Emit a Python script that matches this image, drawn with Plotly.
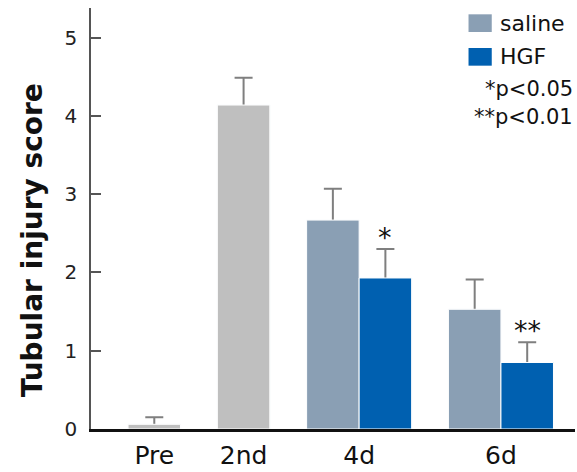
import plotly.graph_objects as go

# data
categories = ["Pre", "2nd", "4d", "6d"]
group_sizes = [1, 1, 2, 2]

control_values = [0.06, 4.14]
control_err = [0.09, 0.35]

series_names = ["saline", "HGF"]
saline_values = [2.67, 1.53]
saline_err = [0.40, 0.38]
hgf_values = [1.93, 0.85]
hgf_err = [0.37, 0.26]

stars = ["*", "**"]
p_notes = ["*p<0.05", "**p<0.01"]

FONT = "DejaVu Sans"
GRAY = "#BFBFBF"
SALINE = "#8A9FB4"
HGF = "#0060B0"
ERR = "#7F7F7F"

# slot layout: bars of width 1, gap between groups
gap = 0.7
starts = []
pos = 0.0
for n in group_sizes:
    starts.append(pos)
    pos += n + gap
centers = [s + n / 2 for s, n in zip(starts, group_sizes)]

x_control = [starts[0] + 0.5, starts[1] + 0.5]
x_saline = [starts[2] + 0.5, starts[3] + 0.5]
x_hgf = [starts[2] + 1.5, starts[3] + 1.5]

fig = go.Figure()

# error bars go on a transparent trace drawn first, so the real bars hide
# the part of each whisker below the bar top
all_x = x_control + x_saline + x_hgf
all_y = control_values + saline_values + hgf_values
all_err = control_err + saline_err + hgf_err
fig.add_trace(go.Bar(
    x=all_x, y=all_y, width=1,
    marker=dict(color="rgba(0,0,0,0)"),
    error_y=dict(type="data", symmetric=False, array=all_err,
                 arrayminus=all_y, color=ERR, thickness=2, width=9),
    showlegend=False, hoverinfo="skip"
))

for xs, ys, col in [(x_control, control_values, GRAY),
                    (x_saline, saline_values, SALINE),
                    (x_hgf, hgf_values, HGF)]:
    fig.add_trace(go.Bar(
        x=xs, y=ys, width=1,
        marker=dict(color=col, line=dict(color="white", width=1)),
        showlegend=False
    ))

# significance stars above HGF error bars
for xv, v, e, s in zip(x_hgf, hgf_values, hgf_err, stars):
    fig.add_annotation(
        x=xv, y=v + e, text=s, showarrow=False, yanchor="bottom", yshift=-6,
        font=dict(family=FONT, size=27, color="#111111")
    )

# legend drawn by hand (larger swatches than the native legend)
for i, (name, col) in enumerate(zip(series_names, [SALINE, HGF])):
    y_top = 0.985 - i * 0.08
    fig.add_shape(
        type="rect", xref="paper", yref="paper",
        x0=0.78, x1=0.828, y0=y_top - 0.042, y1=y_top,
        fillcolor=col, line=dict(width=0)
    )
    fig.add_annotation(
        xref="paper", yref="paper", x=0.84, y=y_top - 0.021,
        text=name, showarrow=False, xanchor="left", yanchor="middle",
        font=dict(family=FONT, size=22, color="#111111")
    )

for i, note in enumerate(p_notes):
    fig.add_annotation(
        xref="paper", yref="paper", x=1.0, y=0.807 - i * 0.066,
        text=note, showarrow=False, xanchor="right", yanchor="middle",
        font=dict(family=FONT, size=21, color="#111111")
    )

# y title as a rotated annotation, sitting a little below the plot middle
fig.add_annotation(
    xref="paper", yref="paper", x=-0.122, y=0.448,
    text="<b>Tubular injury score</b>", textangle=-90, showarrow=False,
    xanchor="center", yanchor="middle",
    font=dict(family=FONT, size=28, color="#111111")
)

fig.update_layout(
    width=577,
    height=472,
    barmode="overlay",
    plot_bgcolor="white",
    paper_bgcolor="white",
    margin=dict(l=91, r=2, t=8, b=40),
    font=dict(family=FONT, color="#222222"),
    xaxis=dict(
        range=[-0.705, 8.51],
        tickvals=centers,
        ticktext=categories,
        showline=True, linecolor="#111111", linewidth=3,
        ticks="", showgrid=False, zeroline=False,
        ticklabelstandoff=2,
        tickfont=dict(family=FONT, size=25, color="#111111")
    ),
    yaxis=dict(
        range=[0, 5.38],
        tickvals=[0, 1, 2, 3, 4, 5],
        showline=True, linecolor="#555555", linewidth=1.5,
        ticks="inside", ticklen=10, tickcolor="#555555", tickwidth=1.5,
        showgrid=False, zeroline=False,
        ticklabelstandoff=8,
        tickfont=dict(family=FONT, size=20, color="#222222")
    )
)

fig.write_html("out.html", config={"displayModeBar": False},
               post_script="document.body.style.margin='0';")
